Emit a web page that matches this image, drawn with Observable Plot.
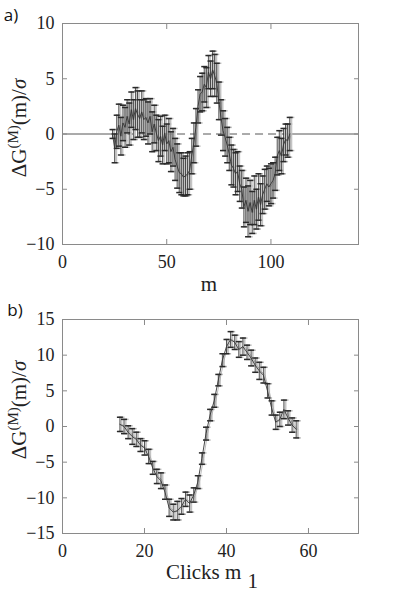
<!DOCTYPE html>
<html><head><meta charset="utf-8">
<script src="https://cdn.jsdelivr.net/npm/d3@7"></script>
<script src="https://cdn.jsdelivr.net/npm/@observablehq/plot@0.6"></script>
<style>
body{margin:0;background:#fff;}
#wrap{width:395px;height:592px;}
.panel{width:395px;height:296px;}
.panel svg{display:block;}
</style></head><body>
<div id="wrap"><div class="panel" id="pa"></div><div class="panel" id="pb"></div></div>
<script>
// Panel a) m vs ΔG(M)(m)/σ
const mA = [24,25,26,27,28,29,30,31,32,33,34,35,36,37,38,39,40,41,42,43,44,45,46,47,48,49,50,51,52,53,54,55,56,57,58,59,60,61,62,63,64,65,66,67,68,69,70,71,72,73,74,75,76,77,78,79,80,81,82,83,84,85,86,87,88,89,90,91,92,93,94,95,96,97,98,99,100,101,102,103,104,105,106,107,108,109];
const gA = [0,-1.3,0.2,0.8,-0.2,1.0,0.6,1.6,0.9,2.2,1.3,2.3,1.8,1.4,2.0,1.3,1.5,1.0,1.6,0.2,0.9,0.1,-0.6,-0.2,-1.0,0.1,-0.9,-0.6,-1.6,-1.2,-2.3,-2.9,-3.5,-3.6,-3.9,-3.8,-3.6,-3.3,-2.0,-0.8,0.6,2.5,3.6,3.8,4.5,4.2,5.6,5.0,5.8,5.3,4.6,3.0,1.5,0.3,-0.3,-1.0,-1.8,-2.8,-3.1,-3.6,-3.4,-4.5,-5.0,-6.6,-6.0,-7.0,-6.2,-7.1,-6.0,-6.8,-5.7,-6.4,-5.5,-5.0,-4.5,-4.8,-4.5,-4.2,-3.6,-2.0,-1.5,-2.0,-1.0,-0.5,-0.6,0];
const eA = [0.4,1.3,1.5,1.9,1.7,1.6,1.8,1.5,1.9,1.6,1.8,1.9,2.1,1.7,1.9,1.8,1.7,1.9,1.6,1.8,1.7,1.6,1.9,1.8,1.7,1.6,1.8,2.0,1.8,1.7,1.9,2.0,1.8,1.9,1.7,1.8,1.9,1.7,1.6,1.8,1.7,1.5,1.6,1.7,1.6,1.8,1.5,1.6,1.7,1.9,1.8,1.7,1.6,1.8,1.7,1.6,1.5,1.8,1.7,1.9,1.8,1.6,1.7,1.8,2.0,2.3,2.0,1.9,2.2,1.8,2.1,1.9,1.7,1.8,1.6,1.7,1.8,1.6,1.5,1.7,1.8,1.6,1.5,1.4,1.5,1.5];
const xTicksA = [0,50,100];
const yTicksA = [-10,-5,0,5,10];

// Panel b) Clicks m1 vs ΔG(M)(m)/σ
const mB = [14,15,16,17,18,19,20,21,22,23,24,25,26,27,28,29,30,31,32,33,34,35,36,37,38,39,40,41,42,43,44,45,46,47,48,49,50,51,52,53,54,55,56,57];
const gB = [0.3,0.0,-0.8,-1.4,-1.8,-2.6,-3.0,-4.2,-5.8,-7.0,-7.6,-9.2,-11.4,-12.0,-11.8,-11.2,-10.2,-10.8,-9.6,-7.8,-4.5,-1.0,1.6,3.6,6.5,9.3,11.2,12.2,11.8,10.8,11.2,10.4,9.6,8.6,7.8,7.2,5.0,2.6,0.6,1.0,2.4,1.2,0.2,-0.4];
const eB = [1.0,1.0,0.9,1.1,1.0,0.9,1.0,1.0,0.9,1.0,1.1,1.0,1.2,1.1,1.3,1.1,1.0,1.2,1.0,0.9,0.8,0.9,0.8,0.9,0.8,0.9,1.0,1.1,1.0,1.1,1.2,1.0,1.1,1.0,1.2,1.1,1.0,1.0,1.0,1.0,1.3,1.0,1.0,1.2];
const xTicksB = [0,20,40,60];
const yTicksB = [-15,-10,-5,0,5,10,15];

const capSym = {draw(ctx){ ctx.moveTo(-3,0); ctx.lineTo(3,0); }};
const FONT = "'Liberation Serif','Times New Roman',serif";

function makePanel(el, opt){
  const data = opt.xs.map((x,i)=>({x, y: opt.ys[i], e: opt.es[i]}));
  const lo = d => d.y - d.e, hi = d => d.y + d.e;
  const marks = [];
  if (opt.zero) {
    const x0 = d3.min(opt.xs), x1 = d3.max(opt.xs);
    marks.push(Plot.ruleY([0], {x1: () => opt.xDomain[0], x2: () => x0, stroke:"#444", strokeWidth:0.9}));
    marks.push(Plot.ruleY([0], {x1: () => x0, x2: () => x1, stroke:"#444", strokeWidth:0.9, strokeDasharray:"8,5"}));
    marks.push(Plot.ruleY([0], {x1: () => x1, x2: () => opt.xDomain[1], stroke:"#444", strokeWidth:0.9}));
  }
  marks.push(Plot.ruleX(data, {x:"x", y1: lo, y2: hi, stroke:"#c4c4c4", strokeWidth:2, dx:1.6}));
  marks.push(Plot.dot(data, {x:"x", y: hi, symbol: capSym, stroke:"#b8b8b8", fill:"none", dx:1.6}));
  marks.push(Plot.dot(data, {x:"x", y: lo, symbol: capSym, stroke:"#b8b8b8", fill:"none", dx:1.6}));
  marks.push(Plot.line(data, {x:"x", y:"y", stroke:"#aaa", strokeWidth:0.8, dx:1.6}));
  marks.push(Plot.ruleX(data, {x:"x", y1: lo, y2: hi, stroke:"#2a2a2a", strokeWidth:0.8}));
  marks.push(Plot.dot(data, {x:"x", y: hi, symbol: capSym, stroke:"#2a2a2a", fill:"none"}));
  marks.push(Plot.dot(data, {x:"x", y: lo, symbol: capSym, stroke:"#2a2a2a", fill:"none"}));
  marks.push(Plot.line(data, {x:"x", y:"y", stroke:"#333", strokeWidth:0.9}));
  marks.push(Plot.frame({stroke:"#8a8a8a"}));
  const axC = "#8a8a8a";
  marks.push(Plot.axisX({anchor:"bottom", ticks: opt.xTicks, tickSize:-5, tickPadding:16, label:null, stroke:axC, fill:"#222", fontSize:18}));
  marks.push(Plot.axisX({anchor:"top", ticks: opt.xTicks, tickSize:-5, label:null, stroke:axC, tickFormat: () => ""}));
  marks.push(Plot.axisY({anchor:"left", ticks: opt.yTicks, tickSize:-5, tickPadding:13, label:null, stroke:axC, fill:"#222", fontSize:18}));
  marks.push(Plot.axisY({anchor:"right", ticks: opt.yTicks, tickSize:-5, label:null, stroke:axC, tickFormat: () => ""}));
  const svg = Plot.plot({
    width:395, height:296,
    marginLeft:62, marginRight:37, marginTop:23, marginBottom: opt.mb,
    x:{domain: opt.xDomain},
    y:{domain: opt.yDomain},
    style:{fontFamily: FONT, fontSize:"18px", background:"#fff", color:"#222"},
    marks
  });
  const s = d3.select(svg);
  s.selectAll("text, g").style("font-family", FONT);
  s.append("text").attr("x", opt.tagX).attr("y", opt.tagY)
    .style("font-family","'Open Sans','Liberation Sans',sans-serif").style("font-size","17px").attr("fill","#111").text(opt.tag);
  const yl = s.append("text").attr("transform", `translate(26,${opt.yLabY}) rotate(-90)`)
    .attr("text-anchor","middle").style("font-family",FONT).style("font-size","21px").attr("fill","#222");
  yl.append("tspan").text("ΔG");
  yl.append("tspan").attr("dy",-8).style("font-size","15px").text("(M)");
  yl.append("tspan").attr("dy",8).text("(m)/");
  yl.append("tspan").style("font-style","italic").text("σ");
  const xl = s.append("text").attr("x", opt.xLabX).attr("y", opt.xLabY)
    .attr("text-anchor","middle").style("font-family",FONT).style("font-size","21px").attr("fill","#222");
  opt.xLab(xl);
  el.appendChild(svg);
}

makePanel(document.getElementById("pa"), {
  xs:mA, ys:gA, es:eA, xDomain:[0,142], yDomain:[-10,10], xTicks:xTicksA, yTicks:yTicksA,
  mb:52, zero:true, tag:"a)", tagX:11, tagY:21, yLabY:128, xLabX:209, xLabY:291,
  xLab: t => t.text("m")
});
makePanel(document.getElementById("pb"), {
  xs:mB, ys:gB, es:eB, xDomain:[0,72.2], yDomain:[-15,15], xTicks:xTicksB, yTicks:yTicksB,
  mb:59, zero:false, tag:"b)", tagX:15, tagY:20, yLabY:114, xLabX:212, xLabY:283,
  xLab: t => { t.append("tspan").text("Clicks m"); t.append("tspan").attr("dx",6).attr("dy",9).text("1"); }
});
</script>
</body></html>
